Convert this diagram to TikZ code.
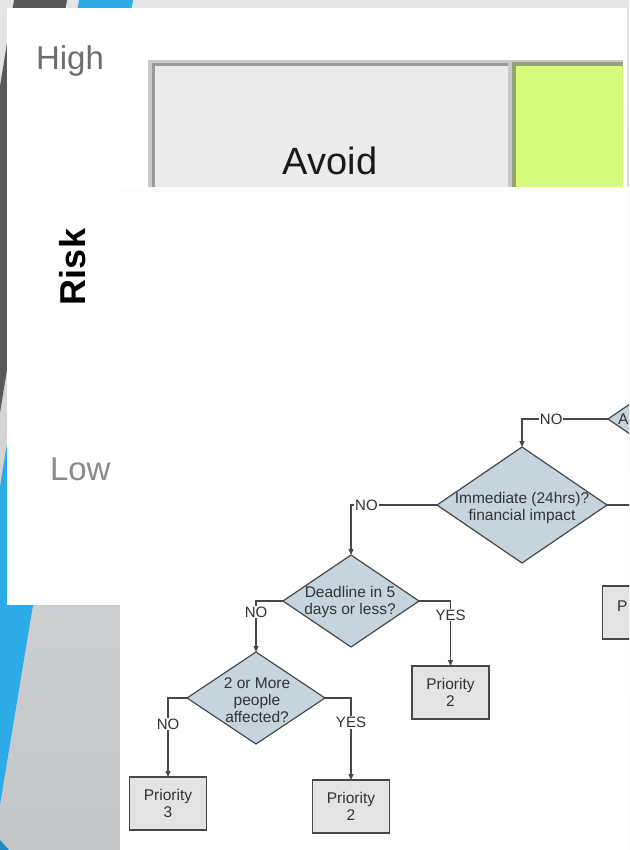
\documentclass[tikz,border=0pt]{standalone}
\usepackage{fontspec}
\setmainfont{Liberation Sans}
\usetikzlibrary{shapes.geometric,arrows.meta}
\definecolor{bgtop}{HTML}{E3E4E6}
\definecolor{bgbot}{HTML}{C3C6C8}
\definecolor{darkstripe}{HTML}{595959}
\definecolor{bluestripe}{HTML}{2CABE8}
\definecolor{deepblue}{HTML}{1F8BC4}
\definecolor{gridlight}{HTML}{C9C9CB}
\definecolor{gridmid}{HTML}{9A9A9A}
\definecolor{cellgray}{HTML}{EBEBEB}
\definecolor{olive}{HTML}{96A36F}
\definecolor{lime}{HTML}{D6FB7B}
\definecolor{fcbg}{HTML}{FDFDFD}
\definecolor{fcline}{HTML}{474747}
\definecolor{diafill}{HTML}{C6D4DE}
\definecolor{boxfill}{HTML}{E3E3E3}
\definecolor{fctext}{HTML}{333333}
\definecolor{highgray}{HTML}{6E6E6E}
\definecolor{lowgray}{HTML}{8A8A8A}
\tikzset{
  dia/.style={diamond, draw=fcline, fill=diafill, line width=1.2pt, inner sep=0pt, outer sep=0pt},
  prio/.style={rectangle, draw=fcline, fill=boxfill, line width=1.3pt, inner sep=0pt, outer sep=0pt,
    minimum width=77pt, minimum height=53pt, align=center, text=fctext,
    font=\fontsize{15.5}{17}\selectfont},
  diatext/.style={align=center, text=fctext, inner sep=0pt, font=\fontsize{15.5}{17}\selectfont},
  lbl/.style={fill=fcbg, inner sep=0.8pt, text=fctext, font=\fontsize{15}{15}\selectfont},
  conn/.style={draw=fcline, line width=1.2pt, -{Triangle[length=6pt,width=5pt]}},
  bigword/.style={inner sep=0pt, outer sep=0pt}
}
\begin{document}
\begin{tikzpicture}[x=1pt,y=-1pt]
\useasboundingbox (0,0) rectangle (629,850);
\clip (0,0) rectangle (629,850);
% slide background
\shade[top color=bgtop, bottom color=bgbot] (0,0) rectangle (629,850);
\fill[darkstripe] (14,0) -- (67,0) -- (-71,850) -- (-124,850) -- cycle;
\fill[bluestripe] (79,0) -- (133,0) -- (-7.5,850) -- (-59,850) -- cycle;
\fill[deepblue] (0,840) -- (9,850) -- (0,850) -- cycle;
% white panel
\fill[white] (7,8) rectangle (627,605);
% risk matrix
\node[bigword, anchor=base west, text=highgray, font=\fontsize{33}{33}\selectfont] (high) at (36,70) {High};
\node[bigword, anchor=base west, text=lowgray, font=\fontsize{33}{33}\selectfont] (low) at (50,480) {Low};
\node[bigword, anchor=base west, rotate=90, text=black, font=\bfseries\fontsize{36}{36}\selectfont] (risk) at (85,305) {Risk};
\fill[gridlight] (148,60) rectangle (623,190);
\fill[gridmid] (151.5,63) rectangle (507.5,190);
\fill[cellgray] (155,66) rectangle (507.5,190);
\fill[olive] (511.5,62.5) rectangle (623,190);
\fill[lime] (515.5,66) rectangle (623,190);
\node[bigword, anchor=base, text=black!90, font=\fontsize{38}{38}\selectfont] (avoid) at (330,175) {Avoid};
% flowchart image
\fill[fcbg] (120,187) rectangle (629,850);
\node[dia, minimum width=170pt, minimum height=116pt] (d0) at (693,419) {};
\node[dia, minimum width=170pt, minimum height=116pt] (d1) at (522,505) {};
\node[dia, minimum width=136pt, minimum height=92pt] (d2) at (351,601) {};
\node[dia, minimum width=138pt, minimum height=92pt] (d3) at (256,698) {};
\node[diatext, anchor=west] (t0) at (618,419) {A};
\node[diatext] (t1) at (522,508) {Immediate (24hrs)?\\financial impact};
\node[diatext] (t2) at (350,602) {Deadline in 5\\days or less?};
\node[diatext] (t3) at (257,700) {2 or More\\people\\affected?};
\node[prio] (b0) at (641,612.5) {};
\node[diatext, anchor=base west] (b0t) at (617,611) {P};
\node[prio] (b1) at (450.5,692.5) {Priority\\2};
\node[prio] (b2) at (168,803.5) {Priority\\3};
\node[prio] (b3) at (351,806.5) {Priority\\2};
% connectors
\draw[conn] (d0.west) -| node[lbl, pos=0.33] {NO} (d1.north);
\draw[conn] (d1.west) -| node[lbl, pos=0.41] {NO} (d2.north);
\draw[conn] (d1.east) -| (b0.north);
\draw[conn] (d2.west) -| node[lbl, pos=0.61] {NO} (d3.north);
\draw[conn] (d2.east) -| node[lbl, pos=0.61] {YES} (b1.north);
\draw[conn] (d3.west) -| node[lbl, pos=0.665] {NO} (b2.north);
\draw[conn] (d3.east) -| node[lbl, pos=0.65] {YES} (b3.north);
\end{tikzpicture}
\end{document}
